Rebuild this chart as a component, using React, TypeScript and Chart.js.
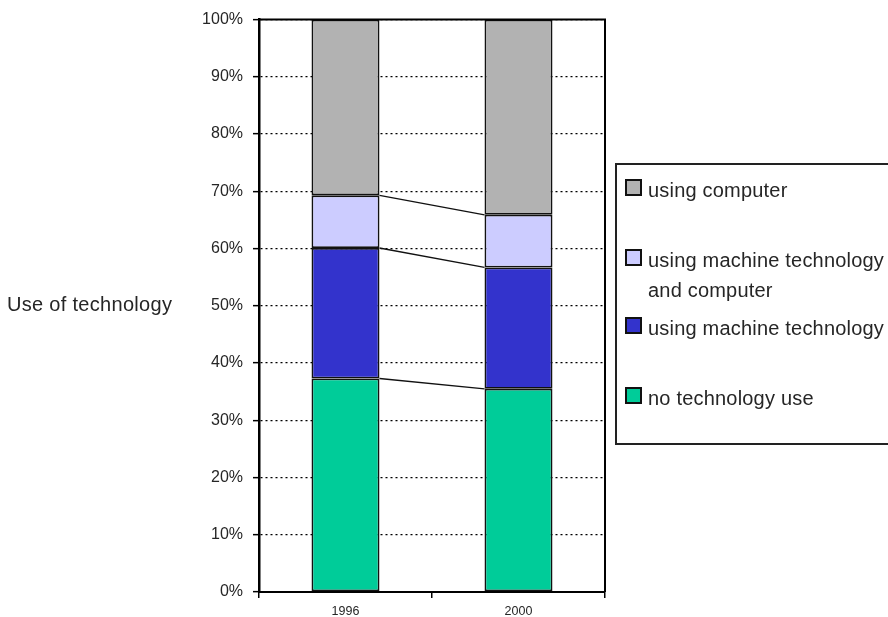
import React, { useEffect, useRef } from 'react';
import { Chart, registerables } from 'chart.js';

Chart.register(...registerables);

// Survey years shown on the category axis
const years = ['1996', '2000'];

// Shares of workers (%) per category, stacked bottom to top
const noTechnology = [37.3, 35.5];
const machineOnly = [22.8, 21.2];
const machineAndComputer = [9.2, 9.2];
const computerOnly = [30.7, 34.1];

// Legend entries, listed top to bottom as in the legend box
const legendLabels = [
  ['using computer'],
  ['using machine technology', 'and computer'],
  ['using machine technology'],
  ['no technology use'],
];
const legendColors = ['#b2b2b2', '#ccccff', '#3333cc', '#00cc99'];

const axisTitle = 'Use of technology';

const FONT = "'Liberation Sans', Arial, sans-serif";
const TEXT = '#262626';

// Connects the top of each stacked segment between neighbouring columns
const seriesLines = {
  id: 'seriesLines',
  afterDatasetsDraw(chart: any) {
    const { ctx } = chart;
    const yScale = chart.scales.y;
    const sets = chart.data.datasets;
    let cum = years.map(() => 0);
    ctx.save();
    ctx.strokeStyle = '#111';
    ctx.lineWidth = 1.3;
    for (let d = 0; d < sets.length - 1; d++) {
      const meta = chart.getDatasetMeta(d);
      cum = cum.map((c, i) => c + (sets[d].data[i] as number));
      for (let i = 0; i < years.length - 1; i++) {
        const a = meta.data[i] as any;
        const b = meta.data[i + 1] as any;
        ctx.beginPath();
        ctx.moveTo(a.x + a.width / 2, yScale.getPixelForValue(cum[i]));
        ctx.lineTo(b.x - b.width / 2, yScale.getPixelForValue(cum[i + 1]));
        ctx.stroke();
      }
    }
    ctx.restore();
  },
};

// Closes the plot area with a solid top and right edge
const plotFrame = {
  id: 'plotFrame',
  afterDraw(chart: any) {
    const { ctx, chartArea: a } = chart;
    ctx.save();
    ctx.strokeStyle = '#000';
    ctx.lineWidth = 2;
    ctx.beginPath();
    ctx.moveTo(a.left, a.top);
    ctx.lineTo(a.right, a.top);
    ctx.lineTo(a.right, a.bottom);
    ctx.stroke();
    ctx.restore();
  },
};

function ColumnChart() {
  const ref = useRef<HTMLCanvasElement | null>(null);

  useEffect(() => {
    if (!ref.current) return;
    const bar = (label: string, data: number[], color: string) => ({
      label,
      data,
      backgroundColor: color,
      borderColor: '#111',
      borderWidth: 1.8,
      borderSkipped: false as const,
      barPercentage: 0.393,
      categoryPercentage: 1,
    });
    const chart = new Chart(ref.current, {
      type: 'bar',
      data: {
        labels: years,
        datasets: [
          bar('no technology use', noTechnology, legendColors[3]),
          bar('using machine technology', machineOnly, legendColors[2]),
          bar('using machine technology and computer', machineAndComputer, legendColors[1]),
          bar('using computer', computerOnly, legendColors[0]),
        ],
      },
      options: {
        responsive: false,
        animation: false,
        devicePixelRatio: 1,
        layout: { padding: { top: 16, right: 283, left: 0, bottom: 0 } },
        plugins: { legend: { display: false }, tooltip: { enabled: false } },
        scales: {
          x: {
            stacked: true,
            grid: {
              offset: true,
              drawOnChartArea: false,
              color: '#000',
              lineWidth: 1.5,
              tickLength: 6,
            },
            border: { color: '#000', width: 2 },
            ticks: { color: TEXT, font: { family: FONT, size: 12.5 }, padding: 6 },
            afterFit: (s: any) => { s.height = 25; },
          },
          y: {
            stacked: true,
            min: 0,
            max: 100,
            grid: {
              color: '#000',
              lineWidth: 1.3,
              tickLength: 6,
              tickColor: '#000',
              tickWidth: 1.5,
            },
            border: { color: '#000', width: 2.5, dash: [2, 3] },
            ticks: {
              stepSize: 10,
              color: TEXT,
              padding: 10,
              font: { family: FONT, size: 16 },
              callback: (v: any) => `${v}%`,
            },
            afterFit: (s: any) => { s.width = 259; },
          },
        },
      },
      plugins: [seriesLines, plotFrame],
    });
    return () => chart.destroy();
  }, []);

  return (
    <canvas
      ref={ref}
      width={888}
      height={617}
      style={{ position: 'absolute', left: 0, top: 0, width: 888, height: 617 }}
    />
  );
}

const textStyle: React.CSSProperties = {
  position: 'absolute',
  fontFamily: FONT,
  fontSize: 20,
  lineHeight: '20px',
  letterSpacing: '0.2px',
  color: TEXT,
  whiteSpace: 'nowrap',
};

// Top of each legend row, top to bottom
const legendRowTops = [180, 250, 318, 388];
const lineGap = 30;

export default function App() {
  return (
    <div
      style={{
        position: 'fixed',
        left: 0,
        top: 0,
        width: 888,
        height: 617,
        overflow: 'hidden',
        background: '#fff',
      }}
    >
      <ColumnChart />
      <div style={{ ...textStyle, left: 7, top: 294, letterSpacing: '0.3px' }}>{axisTitle}</div>
      <div
        style={{
          position: 'absolute',
          left: 615,
          top: 163,
          width: 300,
          height: 282,
          border: '2px solid #222',
          boxSizing: 'border-box',
        }}
      />
      {legendLabels.map((lines, i) => (
        <React.Fragment key={i}>
          <div
            style={{
              position: 'absolute',
              left: 625,
              top: legendRowTops[i] - 1,
              width: 17,
              height: 17,
              boxSizing: 'border-box',
              border: '2px solid #111',
              background: legendColors[i],
            }}
          />
          {lines.map((t, j) => (
            <div key={j} style={{ ...textStyle, left: 648, top: legendRowTops[i] + j * lineGap }}>
              {t}
            </div>
          ))}
        </React.Fragment>
      ))}
    </div>
  );
}
